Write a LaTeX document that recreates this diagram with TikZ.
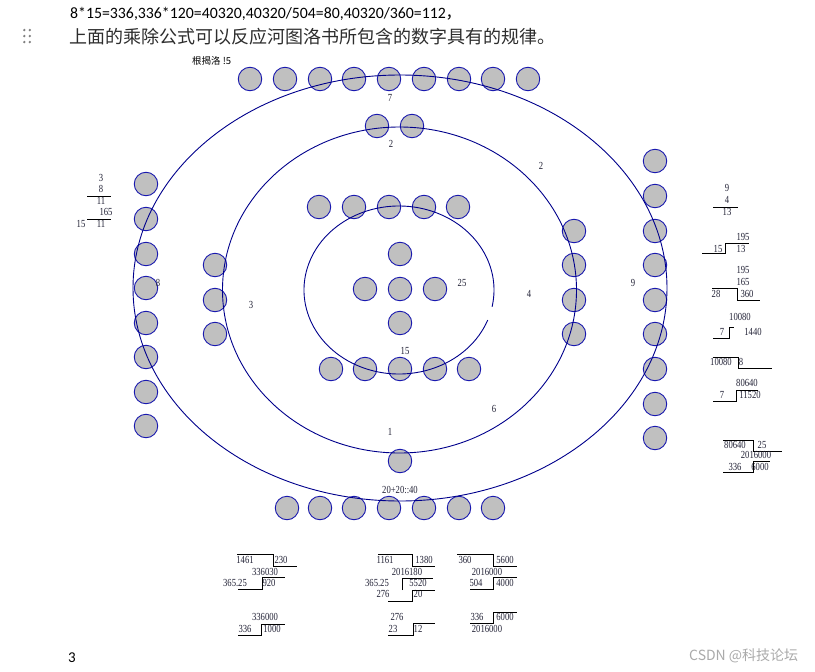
\documentclass[tikz,border=0pt]{standalone}
\usepackage{fontspec}
\setmainfont{Liberation Serif}
\newfontfamily\numfont{Liberation Serif}[FakeStretch=0.8]
\newfontfamily\hdrfont{Carlito}
\newfontfamily\cjk{Noto Sans CJK SC}
\definecolor{dotfill}{RGB}{192,192,192}
\definecolor{dotline}{RGB}{25,25,175}
\definecolor{ringc}{RGB}{0,0,140}
\definecolor{numc}{RGB}{35,35,55}
\tikzset{
  dot/.style={circle, draw=dotline, fill=dotfill, minimum size=23.5pt, inner sep=0pt, line width=0.9pt},
  ring/.style={draw=ringc, line width=0.9pt},
  num/.style={font=\numfont\fontsize{10.8}{10.8}\selectfont, inner sep=0pt, text=numc},
  lab/.style={font=\numfont\fontsize{10.8}{10.8}\selectfont, inner sep=0pt, text=numc},
  rulel/.style={line width=0.6pt, draw=black},
}
\begin{document}
\begin{tikzpicture}[x=1pt,y=-1pt]
\useasboundingbox (0,0) rectangle (815,672);
\fill[white] (0,0) rectangle (815,672);

% header text
\node[anchor=base west, inner sep=0pt, font=\hdrfont\fontsize{15.8}{15.8}\selectfont] (h1) at (70,18) {8*15=336,336*120=40320,40320/504=80,40320/360=112{\cjk ，}};
\node[anchor=west, inner sep=0pt, text={rgb,255:red,45;green,45;blue,45}, font=\cjk\fontsize{18}{18}\selectfont] (h2) at (69,37) {上面的乘除公式可以反应河图洛书所包含的数字具有的规律。};
\foreach \i/\yy in {1/30,2/36,3/42}{
  \fill[gray] (24.3,\yy) circle (1.3);
  \fill[gray] (29.8,\yy) circle (1.3);
}
\node[anchor=west, inner sep=0pt, font=\cjk\fontsize{9.5}{9.5}\selectfont] (ttl) at (192,61) {根揭洛 !5};

% dots
\foreach \x [count=\k] in {250,285,320,354,389,424,459,493,528}{\node[dot] (t\k) at (\x,79) {};}
\node[dot] (s1) at (377,126) {};
\node[dot] (s2) at (412,126) {};
\foreach \x [count=\k] in {319,354,389,424,458}{\node[dot] (u\k) at (\x,207) {};}
\node[dot] (c1) at (400,254) {};
\node[dot] (c2) at (365,289) {};
\node[dot] (c3) at (400,289) {};
\node[dot] (c4) at (435,289) {};
\node[dot] (c5) at (400,323) {};
\foreach \x [count=\k] in {331,365,400,435,469}{\node[dot] (d\k) at (\x,369) {};}
\node[dot] (one) at (400,461) {};
\foreach \x [count=\k] in {287,320,354,389,424,459,493}{\node[dot] (b\k) at (\x,508) {};}
\foreach \y [count=\k] in {184,219,254,288,323,357,392,426}{\node[dot] (L\k) at (146,\y) {};}
\foreach \y [count=\k] in {265,300,334}{\node[dot] (l\k) at (215,\y) {};}
\foreach \y [count=\k] in {231,265,300,334}{\node[dot] (r\k) at (574,\y) {};}
\foreach \y [count=\k] in {161,196,231,265,300,334,369,404,438}{\node[dot] (R\k) at (655,\y) {};}

% rings
\draw[ring] (400,288) ellipse [x radius=267, y radius=213];
\draw[ring] (399.5,290) ellipse [x radius=177, y radius=163];
\draw[ring] ([shift={(21:95 and 84)}]399,290) arc [start angle=21, end angle=371.5, x radius=95, y radius=84];

% ring labels
\node[lab] (n7) at (390,98) {7};
\node[lab] (n2a) at (391,144) {2};
\node[lab] (n2b) at (541,166) {2};
\node[lab] (n8) at (158,283) {8};
\node[lab] (n3) at (251,305) {3};
\node[lab] (n25) at (462,283) {25};
\node[lab] (n4) at (529,294) {4};
\node[lab] (n9) at (633,283) {9};
\node[lab] (n15) at (405,351) {15};
\node[lab] (n6) at (494,409) {6};
\node[lab] (n1) at (390,432) {1};
\node[lab] (n40) at (400,490) {20+20::40};

% left calculation
\node[num] (a1) at (101,178) {3};
\node[num] (a2) at (101,189) {8};
\draw[rulel] (87,196) -- (111,196);
\node[num] (a3) at (101,201) {11};
\node[num] (a4) at (106,212) {165};
\draw[rulel] (87,219) -- (111,219);
\node[num] (a5) at (81,224) {15};
\node[num] (a6) at (101,224) {11};

% right calculations
\node[num] (b01) at (727,188) {9};
\node[num] (b02) at (727,200) {4};
\draw[rulel] (713,207) -- (738,207);
\node[num] (b03) at (727,212) {13};

\node[num] (b04) at (743,237) {195};
\node[num] (b05) at (718,249) {15};
\node[num] (b06) at (741,249) {13};
\draw[rulel] (702,253) -- (725,253) -- (725,243) -- (749,243);

\node[num] (b07) at (743,270) {195};
\node[num] (b08) at (743,282) {165};
\node[num] (b09) at (716,294) {28};
\node[num] (b10) at (747,294) {360};
\draw[rulel] (712,288) -- (737,288) -- (737,300) -- (760,300);

\node[num] (b11) at (740,317) {10080};
\node[num] (b12) at (722,332) {7};
\node[num] (b13) at (753,332) {1440};
\draw[rulel] (713,338) -- (729,338) -- (729,327) -- (734,327);

\node[num] (b14) at (721,362) {10080};
\node[num] (b15) at (741,362) {8};
\draw[rulel] (713,357) -- (738,357) -- (738,368) -- (772,368);

\node[num] (b16) at (747,383) {80640};
\node[num] (b17) at (722,395) {7};
\node[num] (b18) at (750,395) {11520};
\draw[rulel] (713,401) -- (736,401) -- (736,390) -- (758,390);

\node[num] (b19) at (735,445) {80640};
\node[num] (b20) at (762,445) {25};
\draw[rulel] (723,440) -- (753,440) -- (753,451) -- (782,451);
\node[num] (b21) at (756,455) {2016000};
\node[num] (b22) at (735,467) {336};
\node[num] (b23) at (760,467) {6000};
\draw[rulel] (723,472) -- (753,472) -- (753,461) -- (770,461);

% bottom calculations, group A
\node[num] (g01) at (245,560) {1461};
\node[num] (g02) at (281,560) {230};
\draw[rulel] (237,554) -- (273,554) -- (273,566) -- (297,566);
\node[num] (g03) at (265,572) {336030};
\node[num] (g04) at (235,583) {365.25};
\node[num] (g05) at (269,583) {920};
\draw[rulel] (238,589) -- (262,589) -- (262,577) -- (285,577);
\node[num] (g06) at (265,617) {336000};
\node[num] (g07) at (245,629) {336};
\node[num] (g08) at (272,629) {1000};
\draw[rulel] (238,635) -- (261,635) -- (261,624) -- (285,624);

% group B
\node[num] (g09) at (385,560) {1161};
\node[num] (g10) at (424,560) {1380};
\draw[rulel] (378,554) -- (412,554) -- (412,566) -- (435,566);
\node[num] (g11) at (407,572) {2016180};
\node[num] (g12) at (377,583) {365.25};
\node[num] (g13) at (418,583) {5520};
\draw[rulel] (402,590) -- (402,578) -- (433,578);
\node[num] (g14) at (383,594) {276};
\node[num] (g15) at (418,594) {20};
\draw[rulel] (388,601) -- (412,601) -- (412,590) -- (435,590);
\node[num] (g16) at (397,617) {276};
\node[num] (g17) at (393,629) {23};
\node[num] (g18) at (418,629) {12};
\draw[rulel] (388,635) -- (413,635) -- (413,623) -- (435,623);

% group C
\node[num] (g19) at (465,560) {360};
\node[num] (g20) at (505,560) {5600};
\draw[rulel] (457,554) -- (493,554) -- (493,566) -- (517,566);
\node[num] (g21) at (487,572) {2016000};
\node[num] (g22) at (476,583) {504};
\node[num] (g23) at (505,583) {4000};
\draw[rulel] (470,589) -- (493,589) -- (493,577) -- (517,577);
\node[num] (g24) at (477,617) {336};
\node[num] (g25) at (505,617) {6000};
\draw[rulel] (470,623) -- (493,623) -- (493,612) -- (517,612);
\node[num] (g26) at (487,629) {2016000};

% page number and watermark
\node[anchor=west, inner sep=0pt, font=\hdrfont\fontsize{15}{15}\selectfont] (pg) at (68,658) {3};
\node[anchor=west, inner sep=0pt, text={rgb,255:red,170;green,170;blue,170}, font=\cjk\fontsize{14}{14}\selectfont] (wm) at (689,656) {CSDN @科技论坛};
\end{tikzpicture}
\end{document}
